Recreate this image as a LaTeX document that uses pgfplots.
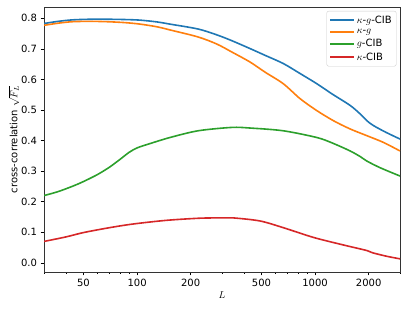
\documentclass[border=0pt]{standalone}
\usepackage{fontspec}
\setmainfont{DejaVu Sans}
\usepackage{pgfplots}
\pgfplotsset{compat=1.18}
\definecolor{tabblue}{HTML}{1F77B4}
\definecolor{taborange}{HTML}{FF7F0E}
\definecolor{tabgreen}{HTML}{2CA02C}
\definecolor{tabred}{HTML}{D62728}
\begin{document}
\begin{tikzpicture}[font=\fontsize{10}{12}\selectfont]
\begin{axis}[
  scale only axis, width=356pt, height=265pt,
  xmode=log, xmin=30, xmax=3000,
  ymin=-0.030, ymax=0.837,
  xtick={50,100,200,500,1000,2000},
  xticklabels={50,100,200,500,1000,2000},
  minor xtick={30,40,60,70,80,90,300,400,600,700,800,900,3000},
  ytick={0,0.1,0.2,0.3,0.4,0.5,0.6,0.7,0.8},
  yticklabels={0.0,0.1,0.2,0.3,0.4,0.5,0.6,0.7,0.8},
  tick align=outside, tick pos=left,
  major tick length=3.5pt, minor tick length=2pt,
  every tick/.style={black, line width=0.6pt},
  axis line style={black!80, line width=0.7pt},
  xlabel={$L$}, ylabel={cross-correlation $\sqrt{F_L}$},
  xlabel style={yshift=2pt},
  ylabel style={yshift=-5pt},
  legend style={at={(0.99,0.985)}, anchor=north east, draw=black!20, rounded corners=2pt, font=\fontsize{10}{12}\selectfont, row sep=0.5pt, inner sep=2.5pt},
  legend cell align=left,
  legend image code/.code={\draw[#1, line width=1.6pt] (0pt,0pt) -- (24pt,0pt);},
]
\addplot[tabblue, smooth, line width=1.6pt] coordinates {
(30,0.783)(36,0.790)(43.6,0.795)(55,0.797)(67,0.797)(85,0.796)(104,0.794)(130,0.788)(153,0.781)(220,0.765)(280,0.746)(340,0.727)(431,0.701)(523,0.679)(663,0.652)(820,0.620)(1023,0.586)(1250,0.552)(1574,0.515)(1800,0.486)(1954,0.465)(2129,0.449)(2500,0.427)(3000,0.405)};
\addlegendentry{$\kappa$-$g$-CIB}
\addplot[taborange, smooth, line width=1.6pt] coordinates {
(30,0.777)(36,0.784)(43.6,0.789)(55,0.790)(67,0.789)(85,0.786)(104,0.781)(130,0.772)(153,0.762)(220,0.739)(280,0.716)(340,0.690)(431,0.657)(523,0.624)(663,0.586)(824,0.537)(1023,0.498)(1268,0.465)(1574,0.438)(1954,0.416)(2420,0.394)(3000,0.366)};
\addlegendentry{$\kappa$-$g$}
\addplot[tabgreen, smooth, line width=1.6pt] coordinates {
(30,0.220)(36,0.233)(43.6,0.251)(50,0.266)(60,0.289)(70,0.313)(80,0.338)(90,0.361)(100,0.376)(118,0.390)(153,0.410)(220,0.432)(340,0.443)(431,0.441)(663,0.432)(1023,0.410)(1250,0.392)(1574,0.366)(1800,0.347)(1954,0.333)(2323,0.311)(3000,0.284)};
\addlegendentry{$g$-CIB}
\addplot[tabred, smooth, line width=1.6pt] coordinates {
(30,0.070)(40,0.085)(50,0.099)(70,0.115)(95,0.127)(146,0.139)(225,0.146)(300,0.147)(347,0.147)(490,0.137)(663,0.115)(981,0.083)(1429,0.059)(1900,0.042)(2000,0.038)(2100,0.033)(2500,0.022)(3000,0.013)};
\addlegendentry{$\kappa$-CIB}
\end{axis}
\pgfresetboundingbox
\path ([shift={(-44pt,-38pt)}]current axis.south west) rectangle ([shift={(7pt,7pt)}]current axis.north east);
\end{tikzpicture}
\end{document}
